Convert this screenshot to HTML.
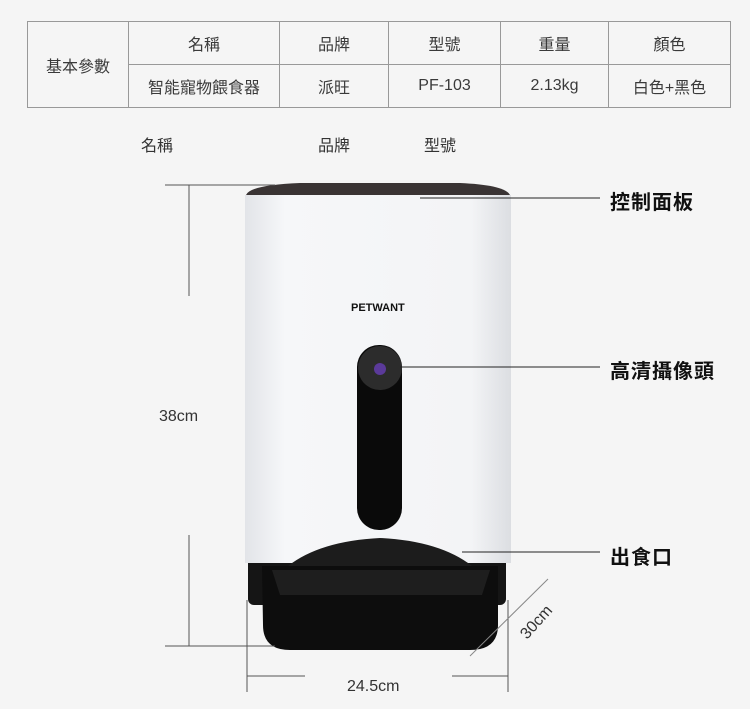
<!DOCTYPE html>
<html><head><meta charset="utf-8"><style>
body{margin:0;width:750px;height:709px;background:#f5f5f5;font-family:"Liberation Sans","Noto Sans CJK TC",sans-serif;position:relative;overflow:hidden;color:#333}
.a{position:absolute}
table{position:absolute;left:27px;top:21px;border-collapse:collapse;font-size:16px;color:#3a3a3a}
td{border:1px solid #999;text-align:center;height:42px;padding:0}
.c{font-size:20px;font-weight:bold;color:#111;letter-spacing:1px}
</style></head><body>
<table>
<tr><td rowspan="2" style="width:100px">基本參數</td><td style="width:150px">名稱</td><td style="width:108px">品牌</td><td style="width:111px">型號</td><td style="width:107px">重量</td><td style="width:121px">顏色</td></tr>
<tr><td>智能寵物餵食器</td><td>派旺</td><td>PF-103</td><td>2.13kg</td><td>白色+黑色</td></tr>
</table>
<div class="a" style="left:141px;top:132px;font-size:16px">名稱</div>
<div class="a" style="left:318px;top:132px;font-size:16px">品牌</div>
<div class="a" style="left:424px;top:132px;font-size:16px">型號</div>

<svg class="a" style="left:0;top:0" width="750" height="709">
<defs><linearGradient id="w" x1="0" x2="1"><stop offset="0" stop-color="#e2e4e8"/><stop offset="0.15" stop-color="#f6f7f9"/><stop offset="0.85" stop-color="#f3f4f6"/><stop offset="1" stop-color="#dcdee2"/></linearGradient></defs>
<path d="M246 195 Q250 185 300 183 L460 183 Q505 185 510 195 Z" fill="#3a3434"/>
<rect x="248" y="548" width="258" height="57" rx="6" fill="#151515"/>
<rect x="245" y="195" width="266" height="368" fill="url(#w)"/>
<path d="M288 566 Q320 541 380 538 Q440 541 472 566 Z" fill="#1c1c1c"/>
<path d="M262 566 L498 566 L498 625 Q498 650 470 650 L290 650 Q263 650 263 625 Z" fill="#0d0d0d"/>
<path d="M272 570 L490 570 L482 595 L280 595 Z" fill="#1e1e1e"/>
<rect x="357" y="345" width="45" height="185" rx="22" fill="#0a0a0a"/>
<circle cx="380" cy="368" r="22" fill="#2c2c2c"/>
<circle cx="380" cy="369" r="6" fill="#5b3a9a"/>
<text x="351" y="311" font-family="Liberation Sans" font-weight="bold" font-size="11" fill="#111">PETWANT</text>
<g stroke="#555" stroke-width="1">
<line x1="189" y1="185" x2="189" y2="296"/><line x1="189" y1="535" x2="189" y2="646"/>
<line x1="165" y1="185" x2="275" y2="185"/><line x1="165" y1="646" x2="275" y2="646"/>
<line x1="247" y1="600" x2="247" y2="692"/><line x1="508" y1="600" x2="508" y2="692"/>
<line x1="247" y1="676" x2="305" y2="676"/><line x1="452" y1="676" x2="508" y2="676"/>
<line x1="470" y1="656" x2="548" y2="579" stroke="#888"/>
<line x1="420" y1="198" x2="600" y2="198" stroke="#222"/>
<line x1="400" y1="367" x2="600" y2="367" stroke="#222"/>
<line x1="462" y1="552" x2="600" y2="552" stroke="#222"/>
</g>
<text x="159" y="421" font-size="16" fill="#333" font-family="Liberation Sans">38cm</text>
<text x="347" y="691" font-size="16" fill="#333" font-family="Liberation Sans">24.5cm</text>
<text x="0" y="0" font-size="16" fill="#333" font-family="Liberation Sans" transform="translate(527,640) rotate(-48)">30cm</text>
</svg>
<div class="a c" style="left:610px;top:186px">控制面板</div>
<div class="a c" style="left:610px;top:355px">高清攝像頭</div>
<div class="a c" style="left:610px;top:541px">出食口</div>
</body></html>
